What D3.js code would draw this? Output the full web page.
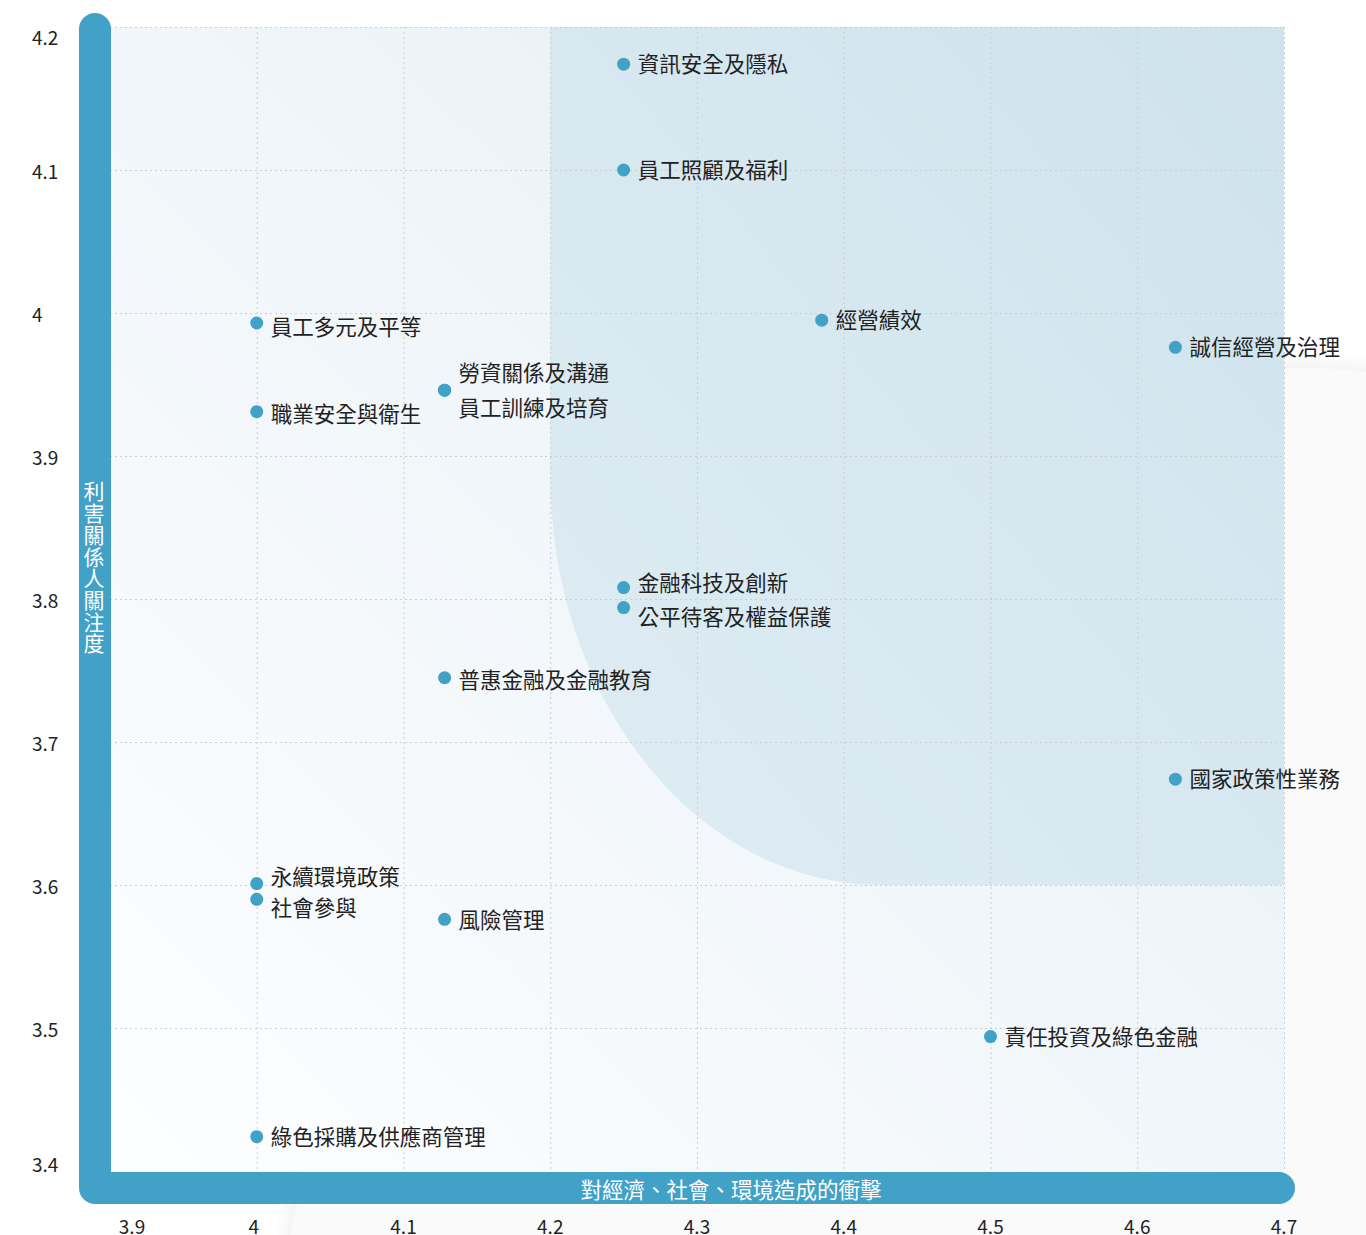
<!DOCTYPE html>
<html>
<head>
<meta charset="utf-8">
<script src="https://cdn.jsdelivr.net/npm/d3@7"></script>
<style>
  html, body { margin: 0; padding: 0; background: #fff; }
  svg { display: block; font-family: "Noto Sans CJK TC", "Noto Sans", sans-serif; }
</style>
</head>
<body>
<svg width="1366" height="1235"></svg>
<script>
// 重大議題：x = 對經濟、社會、環境造成的衝擊, y = 利害關係人關注度
const topics = [
  '資訊安全及隱私', '員工照顧及福利', '經營績效', '誠信經營及治理',
  '員工多元及平等', '職業安全與衛生', '勞資關係及溝通', '員工訓練及培育',
  '金融科技及創新', '公平待客及權益保護', '普惠金融及金融教育', '國家政策性業務',
  '永續環境政策', '社會參與', '風險管理', '責任投資及綠色金融', '綠色採購及供應商管理'
];
const impact = [
  4.25, 4.25, 4.385, 4.626,
  4.00, 4.00, 4.128, 4.128,
  4.25, 4.25, 4.128, 4.626,
  4.00, 4.00, 4.128, 4.50, 4.00
];
const concern = [
  4.174, 4.10, 3.995, 3.976,
  3.993, 3.931, 3.946, 3.946,
  3.808, 3.794, 3.745, 3.674,
  3.601, 3.590, 3.576, 3.494, 3.424
];
const xTicks = [3.9, 4, 4.1, 4.2, 4.3, 4.4, 4.5, 4.6, 4.7];
const yTicks = [4.2, 4.1, 4, 3.9, 3.8, 3.7, 3.6, 3.5, 3.4];
const xTitle = '對經濟、社會、環境造成的衝擊';
const yTitle = '利害關係人關注度';

// label nudges where points sit close together
const labelDy = {
  '員工多元及平等': 4, '職業安全與衛生': 2, '勞資關係及溝通': -17, '員工訓練及培育': 18,
  '金融科技及創新': -5, '公平待客及權益保護': 9, '普惠金融及金融教育': 2,
  '永續環境政策': -7, '社會參與': 9, '風險管理': 1
};

const svg = d3.select('svg');
const blue = '#41a1c7';

const x = d3.scaleLinear().domain([3.9, 4.7]).range([110, 1284]);
const y = d3.scaleLinear().domain([3.4, 4.2]).range([1171, 27]);

const defs = svg.append('defs');

const bgGrad = defs.append('linearGradient')
  .attr('id', 'bgGrad').attr('x1', 0).attr('y1', 1).attr('x2', 1).attr('y2', 0);
bgGrad.append('stop').attr('offset', '0%').attr('stop-color', '#fdfeff');
bgGrad.append('stop').attr('offset', '100%').attr('stop-color', '#e4eef5');

const hiGrad = defs.append('linearGradient')
  .attr('id', 'hiGrad').attr('x1', 0).attr('y1', 1).attr('x2', 1).attr('y2', 0);
hiGrad.append('stop').attr('offset', '0%').attr('stop-color', '#dfedf3');
hiGrad.append('stop').attr('offset', '100%').attr('stop-color', '#cfe3ed');

defs.append('filter').attr('id', 'soft')
  .attr('x', '-10%').attr('y', '-10%').attr('width', '120%').attr('height', '120%')
  .append('feGaussianBlur').attr('stdDeviation', 6);

// faint grey backdrop behind the lower right
svg.append('path')
  .attr('d', 'M282,1245 C300,1000 700,700 1100,420 C1200,360 1280,352 1380,366 L1380,1245 Z')
  .attr('fill', '#f4f4f4')
  .attr('filter', 'url(#soft)');
svg.append('path')
  .attr('d', 'M290,1245 C308,1000 708,705 1105,428 C1205,368 1285,360 1380,374 L1380,1245 Z')
  .attr('fill', '#fafafa');

// plot background
svg.append('rect')
  .attr('x', x(3.9)).attr('y', y(4.2))
  .attr('width', x(4.7) - x(3.9)).attr('height', y(3.4) - y(4.2))
  .attr('fill', 'url(#bgGrad)');

// highlighted zone (x >= 4.2, y >= 3.6) with a wide rounded corner
const rx = 330, ry = 410;
svg.append('path')
  .attr('d', `M${x(4.2)},${y(4.2)} H${x(4.7)} V${y(3.6)} H${x(4.2) + rx}
    A${rx},${ry} 0 0 1 ${x(4.2)},${y(3.6) - ry} Z`)
  .attr('fill', 'url(#hiGrad)');

// grid
const grid = svg.append('g')
  .attr('stroke', '#c9cfd3').attr('stroke-width', 1).attr('stroke-dasharray', '2,3');
grid.selectAll('.vx').data(xTicks.slice(1)).enter().append('line')
  .attr('x1', d => x(d) + 0.5).attr('x2', d => x(d) + 0.5)
  .attr('y1', y(4.2)).attr('y2', y(3.4));
grid.selectAll('.hy').data(yTicks.slice(0, -1)).enter().append('line')
  .attr('y1', d => y(d) + 0.5).attr('y2', d => y(d) + 0.5)
  .attr('x1', x(3.9)).attr('x2', x(4.7));

// axis bars
svg.append('path')
  .attr('d', `M95,29 V1188 H1279`)
  .attr('fill', 'none').attr('stroke', blue).attr('stroke-width', 32)
  .attr('stroke-linecap', 'round').attr('stroke-linejoin', 'round');

// axis titles
svg.append('text')
  .attr('x', 731).attr('y', 1188)
  .attr('text-anchor', 'middle').attr('dominant-baseline', 'central')
  .attr('fill', '#fff').attr('font-size', 21.5)
  .text(xTitle);

svg.append('text')
  .attr('x', 94).attr('y', 481)
  .style('writing-mode', 'vertical-rl')
  .attr('letter-spacing', 0.7)
  .attr('fill', '#fff').attr('font-size', 21)
  .text(yTitle);

// tick labels
svg.append('g').selectAll('text').data(xTicks).enter().append('text')
  .attr('x', d => Math.max(x(d) - (d === 4 ? 3 : 0), 132))
  .attr('y', 1225)
  .attr('text-anchor', 'middle').attr('dominant-baseline', 'central')
  .attr('fill', '#222').attr('font-size', 19)
  .text(d => d);

svg.append('g').selectAll('text').data(yTicks).enter().append('text')
  .attr('x', 32)
  .attr('y', d => Math.min(Math.max(y(d), 36), 1163))
  .attr('dominant-baseline', 'central')
  .attr('fill', '#222').attr('font-size', 19)
  .text(d => d);

// points and labels
const pts = topics.map((t, i) => ({ name: t, x: impact[i], y: concern[i] }));

svg.append('g').selectAll('circle').data(pts).enter().append('circle')
  .attr('cx', d => x(d.x)).attr('cy', d => y(d.y))
  .attr('r', 6.5).attr('fill', blue);

svg.append('g').selectAll('text').data(pts).enter().append('text')
  .attr('x', d => x(d.x) + 14)
  .attr('y', d => y(d.y) - 1.5 + (labelDy[d.name] || 0))
  .attr('dominant-baseline', 'central')
  .attr('fill', '#222').attr('font-size', 21.5)
  .text(d => d.name);
</script>
</body>
</html>
